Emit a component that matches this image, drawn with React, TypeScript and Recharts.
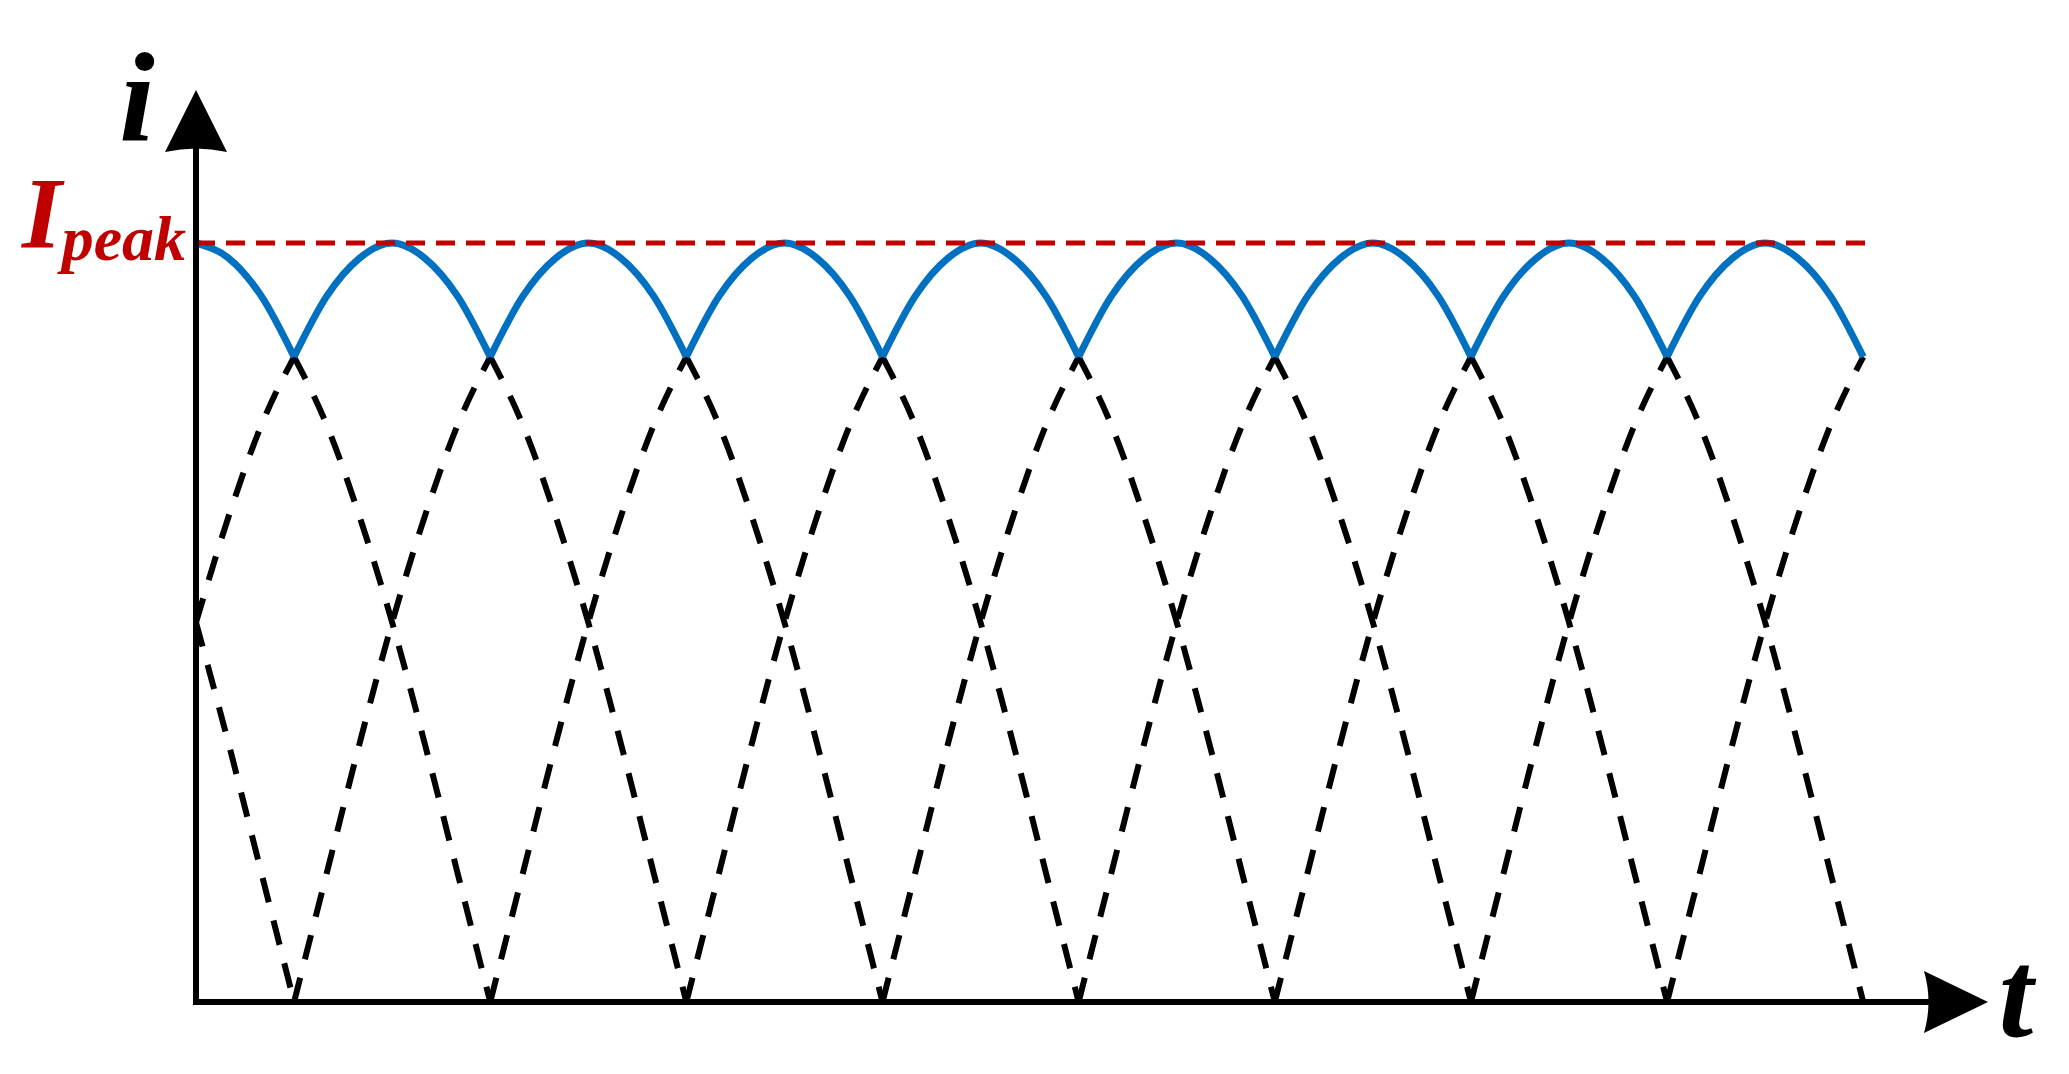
import { LineChart, Line, XAxis, YAxis, ReferenceLine, ReferenceDot } from "recharts";

// sample times, in ripple intervals (one interval = 1/3 of a rectified half-wave), 1/6 steps
const T = Array.from({ length: 52 }, (_, i) => i / 6);

// phase currents as a fraction of Ipeak at each sample time
const PHASE_A = [
  1, 0.98, 0.93, 0.85, 0.76, 0.64, 0.5, 0.34, 0.17, 0, 0.17, 0.34, 0.5, 0.64, 0.76, 0.85, 0.93, 0.98,
  1, 0.98, 0.93, 0.85, 0.76, 0.64, 0.5, 0.34, 0.17, 0, 0.17, 0.34, 0.5, 0.64, 0.76, 0.85, 0.93, 0.98,
  1, 0.98, 0.93, 0.85, 0.76, 0.64, 0.5, 0.34, 0.17, 0, 0.17, 0.34, 0.5, 0.64, 0.76, 0.85,
];
const PHASE_B = [
  0.5, 0.64, 0.76, 0.85, 0.93, 0.98, 1, 0.98, 0.93, 0.85, 0.76, 0.64, 0.5, 0.34, 0.17, 0, 0.17, 0.34,
  0.5, 0.64, 0.76, 0.85, 0.93, 0.98, 1, 0.98, 0.93, 0.85, 0.76, 0.64, 0.5, 0.34, 0.17, 0, 0.17, 0.34,
  0.5, 0.64, 0.76, 0.85, 0.93, 0.98, 1, 0.98, 0.93, 0.85, 0.76, 0.64, 0.5, 0.34, 0.17, 0,
];
const PHASE_C = [
  0.5, 0.34, 0.17, 0, 0.17, 0.34, 0.5, 0.64, 0.76, 0.85, 0.93, 0.98, 1, 0.98, 0.93, 0.85, 0.76, 0.64,
  0.5, 0.34, 0.17, 0, 0.17, 0.34, 0.5, 0.64, 0.76, 0.85, 0.93, 0.98, 1, 0.98, 0.93, 0.85, 0.76, 0.64,
  0.5, 0.34, 0.17, 0, 0.17, 0.34, 0.5, 0.64, 0.76, 0.85, 0.93, 0.98, 1, 0.98, 0.93, 0.85,
];

const PHASES: [string, number[]][] = [
  ["a", PHASE_A],
  ["b", PHASE_B],
  ["c", PHASE_C],
];

const HANDOVER = 0.85; // level where the envelope passes to the next phase
const PEAK = 1;
const T_END = 8.5;
const X_MAX = 8.82;
const Y_MAX = 1.1225;

const BLUE = "#0070C0";
const RED = "#C00000";
const SERIF = '"Liberation Serif", "Times New Roman", serif';

type Row = Record<string, number | null>;

// split each phase into envelope arcs (blue) and falling / rising dashed parts,
// so every cusp is a segment end
function buildRows(): Row[] {
  const keys = PHASES.flatMap(([k]) => [`${k}Top`, `${k}Down`, `${k}Up`]);
  const rows: Row[] = T.map((t) => {
    const r: Row = { t };
    keys.forEach((k) => (r[k] = null));
    return r;
  });
  PHASES.forEach(([key, v]) => {
    for (let i = 0; i < v.length - 1; i++) {
      const a = v[i];
      const b = v[i + 1];
      let k: string | null = null;
      if (a >= HANDOVER && b >= HANDOVER) k = `${key}Top`;
      else if (a <= HANDOVER && b <= HANDOVER) k = b < a ? `${key}Down` : `${key}Up`;
      if (k) {
        rows[i][k] = a;
        rows[i + 1][k] = b;
      }
    }
  });
  return rows;
}

const data = buildRows();

function RightArrow(props: any) {
  const { cx, cy } = props;
  return (
    <g>
      <path
        d={`M${cx - 2},${cy - 31} L${cx + 62},${cy} L${cx - 2},${cy + 31} Q${cx + 7},${cy} ${cx - 2},${cy - 31} Z`}
        fill="#000"
      />
      <text
        x={cx + 90}
        y={cy + 34}
        textAnchor="middle"
        fontFamily={SERIF}
        fontWeight="bold"
        fontStyle="italic"
        fontSize={124}
        fill="#000"
      >
        t
      </text>
    </g>
  );
}

function UpArrow(props: any) {
  const { cx, cy } = props;
  return (
    <g>
      <path
        d={`M${cx - 31},${cy + 2} L${cx},${cy - 60} L${cx + 31},${cy + 2} Q${cx},${cy - 5} ${cx - 31},${cy + 2} Z`}
        fill="#000"
      />
      <text
        x={cx - 59}
        y={cy - 10}
        textAnchor="middle"
        fontFamily={SERIF}
        fontWeight="bold"
        fontStyle="italic"
        fontSize={128}
        fill="#000"
      >
        i
      </text>
    </g>
  );
}

function PeakTick(props: any) {
  const { y } = props;
  return (
    <text x={22} y={y + 5} fill={RED} fontFamily={SERIF} fontWeight="bold" fontStyle="italic">
      <tspan fontSize={102}>I</tspan>
      <tspan fontSize={64} dy={12}>
        peak
      </tspan>
    </text>
  );
}

export default function App() {
  return (
    <div style={{ position: "absolute", left: 0, top: 0, width: 2069, height: 1074, background: "#fff" }}>
      <LineChart width={2069} height={1074} data={data} margin={{ top: 150, right: 143, bottom: 0, left: 0 }}>
        <XAxis
          type="number"
          dataKey="t"
          scale="linear"
          domain={[0, X_MAX]}
          allowDataOverflow
          ticks={[]}
          tick={false}
          tickLine={false}
          height={72}
          axisLine={{ stroke: "#000", strokeWidth: 6, strokeLinecap: "square" }}
        />
        <YAxis
          type="number"
          scale="linear"
          domain={[0, Y_MAX]}
          allowDataOverflow
          ticks={[PEAK]}
          tick={<PeakTick />}
          tickLine={false}
          width={196}
          axisLine={{ stroke: "#000", strokeWidth: 6, strokeLinecap: "square" }}
        />
        {PHASES.flatMap(([k]) => [
          <Line
            key={`${k}Down`}
            type="monotone"
            dataKey={`${k}Down`}
            stroke="#000"
            strokeWidth={6}
            strokeDasharray="25 19"
            dot={false}
            activeDot={false}
            isAnimationActive={false}
          />,
          <Line
            key={`${k}Up`}
            type="monotone"
            dataKey={`${k}Up`}
            stroke="#000"
            strokeWidth={6}
            strokeDasharray="25 19"
            dot={false}
            activeDot={false}
            isAnimationActive={false}
          />,
        ])}
        {PHASES.map(([k]) => (
          <Line
            key={`${k}Top`}
            type="monotone"
            dataKey={`${k}Top`}
            stroke={BLUE}
            strokeWidth={7}
            dot={false}
            activeDot={false}
            isAnimationActive={false}
          />
        ))}
        <ReferenceLine
          segment={[
            { x: 0, y: PEAK },
            { x: T_END + 0.06, y: PEAK },
          ]}
          stroke={RED}
          strokeWidth={5}
          strokeDasharray="19 11"
        />
        <ReferenceDot x={X_MAX} y={0} ifOverflow="visible" shape={<RightArrow />} />
        <ReferenceDot x={0} y={Y_MAX} ifOverflow="visible" shape={<UpArrow />} />
      </LineChart>
    </div>
  );
}
